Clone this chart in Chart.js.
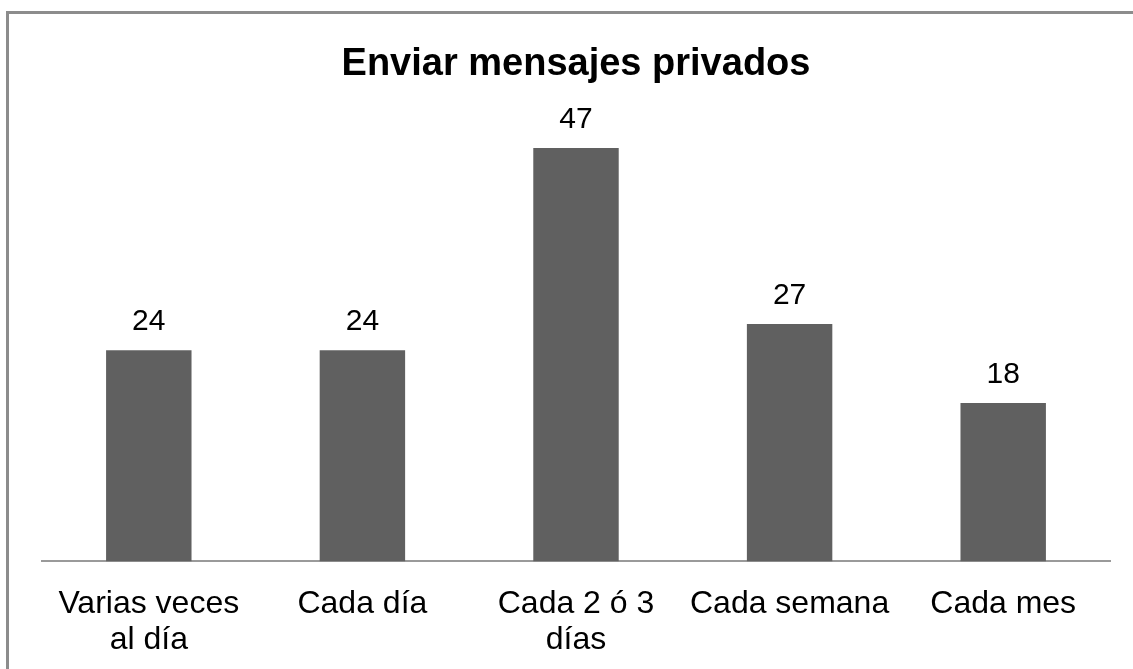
<!DOCTYPE html>
<html lang="es">
<head>
<meta charset="utf-8">
<title>Enviar mensajes privados</title>
<script src="https://cdn.jsdelivr.net/npm/chart.js@4/dist/chart.umd.min.js"></script>
<style>
  html, body { margin: 0; padding: 0; background: #fff; overflow: hidden; }
  #contenedor { position: relative; width: 1133px; height: 669px; }
  #grafico { position: absolute; left: 0; top: 0; }
  #marco {
    position: absolute; left: 6px; top: 11px; width: 1200px; height: 700px;
    border-left: 3px solid #8c8c8c; border-top: 3px solid #8c8c8c;
    pointer-events: none;
  }
</style>
</head>
<body>
<div id="contenedor">
  <canvas id="grafico" width="1133" height="669"></canvas>
  <div id="marco"></div>
</div>
<script>
const titulo = "Enviar mensajes privados";
const categorias = [
  ["Varias veces", "al día"],
  "Cada día",
  ["Cada 2 ó 3", "días"],
  "Cada semana",
  "Cada mes"
];
const valores = [24, 24, 47, 27, 18];
const ejeY = { min: 0, max: 50 };

const fuente = "'Liberation Sans', Arial, Helvetica, sans-serif";

// Dibuja el valor encima de cada barra
const etiquetasValor = {
  id: "etiquetasValor",
  afterDatasetsDraw(chart) {
    const ctx = chart.ctx;
    const meta = chart.getDatasetMeta(0);
    ctx.save();
    ctx.font = "30px " + fuente;
    ctx.fillStyle = "#000";
    ctx.textAlign = "center";
    ctx.textBaseline = "alphabetic";
    meta.data.forEach((barra, i) => {
      ctx.fillText(String(valores[i]), barra.x, barra.y - 20);
    });
    ctx.restore();
  }
};

const ctx = document.getElementById("grafico").getContext("2d");
new Chart(ctx, {
  type: "bar",
  data: {
    labels: categorias,
    datasets: [{
      label: titulo,
      data: valores,
      backgroundColor: "#606060",
      borderWidth: 0,
      categoryPercentage: 1,
      barPercentage: 0.4
    }]
  },
  options: {
    responsive: false,
    devicePixelRatio: 1,
    animation: false,
    layout: {
      padding: { left: 42, right: 23, top: 0, bottom: -14 }
    },
    plugins: {
      legend: { display: false },
      tooltip: { enabled: false },
      title: {
        display: true,
        text: titulo,
        color: "#000",
        font: { family: fuente, size: 38, weight: "bold", lineHeight: 1.2 },
        padding: { top: 42, bottom: 34 }
      }
    },
    scales: {
      x: {
        grid: { display: false, drawTicks: false },
        border: { display: true, color: "#9a9a9a", width: 2 },
        ticks: {
          color: "#000",
          font: { family: fuente, size: 32, lineHeight: 1.15 },
          padding: 24,
          maxRotation: 0,
          autoSkip: false
        }
      },
      y: {
        display: false,
        min: ejeY.min,
        max: ejeY.max
      }
    }
  },
  plugins: [etiquetasValor]
});
</script>
</body>
</html>
